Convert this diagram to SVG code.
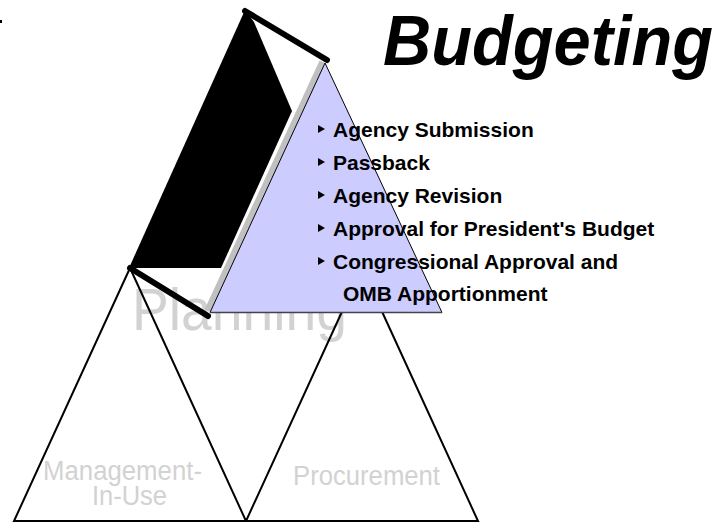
<svg xmlns="http://www.w3.org/2000/svg" width="728" height="523" viewBox="0 0 728 523">
  <style>
    .lbl { font-family: "Liberation Sans", Arial, sans-serif; fill: #d2d2d2; }
    .tri { fill: none; stroke: #000; stroke-width: 2; stroke-linejoin: miter; }
    .thick { stroke: #000; stroke-width: 6; stroke-linecap: round; fill: none; }
    .item { font-family: "Liberation Sans", Arial, sans-serif; font-weight: bold; font-size: 21px; fill: #000; }
  </style>
  <defs>
    <polygon id="bullet" points="0,-4 0,4 7,0" fill="#000"/>
  </defs>
  <rect x="0" y="0" width="728" height="523" fill="#fff"/>
  <rect x="0" y="20" width="2" height="3" fill="#000"/>

  <g id="planning-label">
    <text class="lbl" x="132" y="330" font-size="60" textLength="215" lengthAdjust="spacingAndGlyphs">Planning</text>
  </g>

  <g id="management-in-use">
    <polygon class="tri" points="130,268 14,521 246,521"/>
    <text class="lbl" x="43" y="480" font-size="27" textLength="159" lengthAdjust="spacingAndGlyphs">Management-</text>
    <text class="lbl" x="92" y="505" font-size="27" textLength="75" lengthAdjust="spacingAndGlyphs">In-Use</text>
  </g>

  <g id="procurement">
    <polygon class="tri" points="362,268 246,521 478,521"/>
    <text class="lbl" x="293" y="485" font-size="27" textLength="147" lengthAdjust="spacingAndGlyphs">Procurement</text>
  </g>

  <g id="budgeting">
    <polygon points="245,10 129,268 221,268 292,111 254,22" fill="#000"/>
    <line x1="322.3" y1="61.7" x2="207.3" y2="310.7" stroke="#c0c0c0" stroke-width="6"/>
    <polygon points="325,63 210,312.5 442,312.5" fill="#ccccff" stroke="none"/>
    <line x1="325" y1="63" x2="210" y2="312.5" stroke="#000" stroke-width="1"/>
    <line x1="325" y1="63" x2="442" y2="312.5" stroke="#000" stroke-width="1"/>
    <line x1="210" y1="312.5" x2="442" y2="312.5" stroke="#444" stroke-width="1.5"/>
    <line class="thick" x1="245" y1="11" x2="327" y2="60"/>
    <line class="thick" x1="130" y1="268" x2="208" y2="316"/>
    <text x="383" y="65" font-family="Liberation Sans, Arial, sans-serif" font-weight="bold" font-style="italic" font-size="71" textLength="330" lengthAdjust="spacingAndGlyphs" fill="#000">Budgeting</text>
  </g>

  <g id="budget-steps">
    <use href="#bullet" x="318" y="129"/>
    <text class="item" x="333" y="137">Agency Submission</text>
    <use href="#bullet" x="318" y="162"/>
    <text class="item" x="333" y="170">Passback</text>
    <use href="#bullet" x="318" y="195"/>
    <text class="item" x="333" y="203">Agency Revision</text>
    <use href="#bullet" x="318" y="228"/>
    <text class="item" x="333" y="236">Approval for President's Budget</text>
    <use href="#bullet" x="318" y="261"/>
    <text class="item" x="333" y="269">Congressional Approval and</text>
    <text class="item" x="343" y="301">OMB Apportionment</text>
  </g>
</svg>
